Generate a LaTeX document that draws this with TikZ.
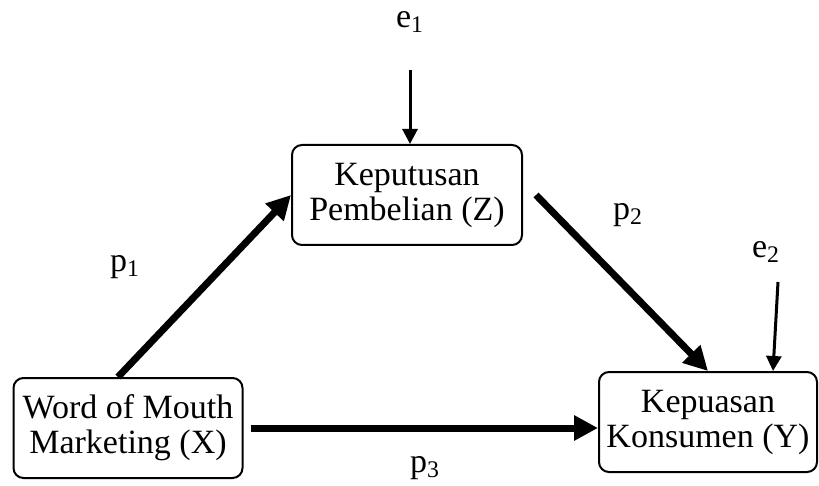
\documentclass[tikz,border=0pt]{standalone}
\usepackage{fontspec}
\setmainfont{Liberation Serif}
\usepackage{tikz}
\usetikzlibrary{arrows.meta}

\begin{document}
\begin{tikzpicture}[x=0.5pt, y=-0.5pt]
\tikzstyle{varbox}=[draw=black, line width=1pt, rounded corners=5pt, minimum height=50pt, align=center, font=\fontsize{17pt}{17.5pt}\selectfont]
\tikzstyle{label}=[font=\fontsize{17pt}{20pt}\selectfont]
\tikzstyle{path}=[line width=3.5pt, -{Triangle[length=12pt,width=12pt]}]
\tikzstyle{error}=[line width=1.5pt, -{Triangle[length=7.5pt,width=7.5pt]}]

\useasboundingbox (0,0) rectangle (819,486);

% Variables
\node[varbox, minimum width=115pt] (Z) at (407,195) {Keputusan\\Pembelian (Z)};
\node[varbox, minimum width=114.5pt] (X) at (128,428) {Word of Mouth\\Marketing (X)};
\node[varbox, minimum width=109pt] (Y) at (708,422) {Kepuasan\\Konsumen (Y)};

% Error terms
\node[label] (e1) at (410,22) {e\textsubscript{1}};
\node[label] (e2) at (766,252) {e\textsubscript{2}};
\coordinate (e1top) at (410,70);
\coordinate (e2top) at (778,282);

\draw[error] (e1top) -- (e1top |- Z.north);
\draw[error] (e2top) -- ([xshift=32.5pt]Y.north);

% Paths
\draw[path] ([xshift=-5pt]X.north) -- (Z.west);
\draw[path] ([xshift=6.5pt]Z.east) -- (Y.north);
\draw[path] ([xshift=3.5pt]X.east) -- (X.east -| Y.west);

\node[label] (p1) at (125,267) {p\textsubscript{1}};
\node[label] (p2) at (628,215) {p\textsubscript{2}};
\node[label] (p3) at (425,468) {p\textsubscript{3}};
\end{tikzpicture}
\end{document}
